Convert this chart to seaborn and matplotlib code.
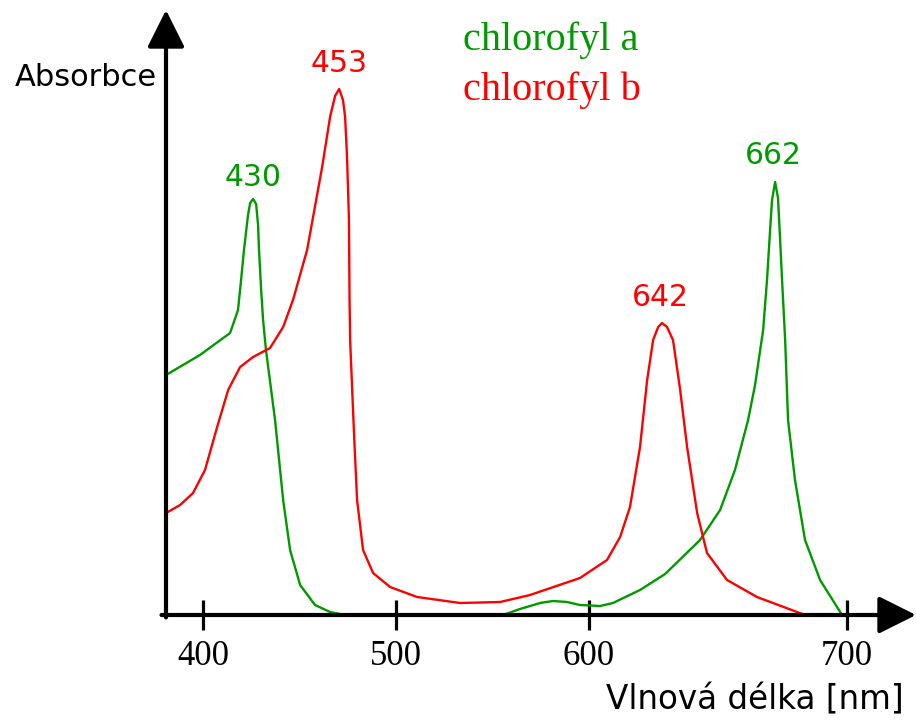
import numpy as np
import pandas as pd
import matplotlib.pyplot as plt
import seaborn as sns

# chlorofyl a (zelená) - dva úseky, mezi nimi nulová absorbance
a_nm = [380.8, 398.4, 414.0, 418.1, 419.7, 421.2, 423.3, 424.4, 425.9, 427.5,
        428.5, 429.0, 430.1, 431.1, 432.6, 437.3, 441.5, 445.1, 450.3, 458.0,
        465.8, 473.6]
a_abs = [0.48, 0.52, 0.564, 0.61, 0.67, 0.73, 0.80, 0.824, 0.832, 0.822,
         0.78, 0.73, 0.65, 0.59, 0.53, 0.39, 0.23, 0.13, 0.06, 0.02,
         0.006, 0.0]
a2_nm = [555.4, 564.2, 574.6, 581.3, 588.6, 595.3, 605.7, 612.4, 626.4, 639.4,
         657.5, 667.9, 675.6, 682.4, 686.0, 690.2, 692.2, 693.8, 694.8, 696.4,
         697.9, 699.0, 700.0, 701.6, 703.1, 706.7, 711.9, 719.7, 731.1]
a2_abs = [0.0, 0.012, 0.024, 0.028, 0.026, 0.02, 0.018, 0.024, 0.05, 0.082,
          0.15, 0.21, 0.29, 0.39, 0.46, 0.57, 0.67, 0.77, 0.83, 0.866,
          0.834, 0.75, 0.67, 0.55, 0.39, 0.27, 0.15, 0.07, 0.0]

# chlorofyl b (červená)
b_nm = [380.8, 388.1, 394.8, 401.0, 407.3, 413.0, 419.2, 425.9, 434.7, 441.5,
        446.6, 453.9, 461.7, 465.8, 468.4, 470.5, 472.5, 473.6, 474.6, 475.6,
        475.9, 476.2, 478.2, 479.8, 482.9, 488.1, 496.9, 510.9, 533.2, 553.9,
        569.4, 595.3, 609.3, 616.1, 621.2, 626.4, 630.1, 633.2, 635.8, 637.8,
        640.4, 643.5, 647.2, 650.8, 656.0, 661.1, 671.5, 687.0, 711.9]
b_abs = [0.204, 0.22, 0.244, 0.29, 0.376, 0.45, 0.496, 0.516, 0.534, 0.576,
         0.63, 0.73, 0.896, 0.996, 1.038, 1.052, 1.03, 0.996, 0.916, 0.79,
         0.63, 0.55, 0.364, 0.23, 0.13, 0.084, 0.056, 0.036, 0.024, 0.026,
         0.04, 0.074, 0.11, 0.156, 0.216, 0.336, 0.47, 0.55, 0.576, 0.584,
         0.576, 0.55, 0.45, 0.336, 0.204, 0.124, 0.07, 0.036, 0.0]

# popisky vrcholů
peak_labels = ["430", "453", "642", "662"]
peak_x = [425.9, 470.5, 636.8, 695.3]
peak_y = [0.876, 1.104, 0.634, 0.918]
peak_col = ["a", "b", "b", "a"]

tick_pos = [400, 500, 600, 733.7]
tick_labels = ["400", "500", "600", "700"]

GREEN = "#009a00"
RED = "#ff0000"

df_a = pd.DataFrame({"nm": a_nm + a2_nm, "A": a_abs + a2_abs,
                     "seg": [0] * len(a_nm) + [1] * len(a2_nm)})
df_b = pd.DataFrame({"nm": b_nm, "A": b_abs, "seg": 0})

sns.set_style("white")
fig = plt.figure(figsize=(9.16, 7.21), dpi=100)
ax = fig.add_axes([166 / 916, 106 / 721, 750 / 916, 605 / 721])

sns.lineplot(data=df_a, x="nm", y="A", units="seg", estimator=None, sort=False,
             color=GREEN, lw=1.7, ax=ax)
sns.lineplot(data=df_b, x="nm", y="A", units="seg", estimator=None, sort=False,
             color=RED, lw=1.7, ax=ax)

ax.set_xlim(380.8, 769.4)
ax.set_ylim(0, 1.21)
for s in ax.spines.values():
    s.set_visible(False)
ax.set_xlabel("")
ax.set_ylabel("")
ax.set_yticks([])
ax.set_xticks(tick_pos)
ax.set_xticklabels(tick_labels, family="Liberation Serif", fontsize=25,
                   color="black")
ax.tick_params(axis="x", direction="inout", length=22, width=2.3, pad=7,
               bottom=True, color="black")

# osy se šipkami
arrow = dict(arrowstyle="-|>,head_length=1.0,head_width=0.5", lw=3,
             color="black", shrinkA=0, shrinkB=0, mutation_scale=23)
ax.annotate("", xy=(1, 0), xytext=(-0.006, 0), xycoords="axes fraction",
            arrowprops=arrow)
ax.annotate("", xy=(0, 1), xytext=(0, -0.004), xycoords="axes fraction",
            arrowprops=arrow)

for lab, x, y, c in zip(peak_labels, peak_x, peak_y, peak_col):
    ax.text(x, y, lab, color=GREEN if c == "a" else RED, fontsize=21.5,
            ha="center", va="center", family="DejaVu Sans")

fig.text(86 / 916, 1 - 77 / 721, "Absorbce", fontsize=22, ha="center",
         va="center", family="DejaVu Sans", color="black")
fig.text(755 / 916, 1 - 700 / 721, "Vlnová délka [nm]", fontsize=23.5,
         ha="center", va="center", family="DejaVu Sans", color="black")
fig.text(463 / 916, 1 - 40 / 721, "chlorofyl a", color=GREEN, fontsize=29,
         ha="left", va="center", family="Liberation Serif")
fig.text(463 / 916, 1 - 90 / 721, "chlorofyl b", color=RED, fontsize=29,
         ha="left", va="center", family="Liberation Serif")

plt.savefig("out.png", dpi=100)
